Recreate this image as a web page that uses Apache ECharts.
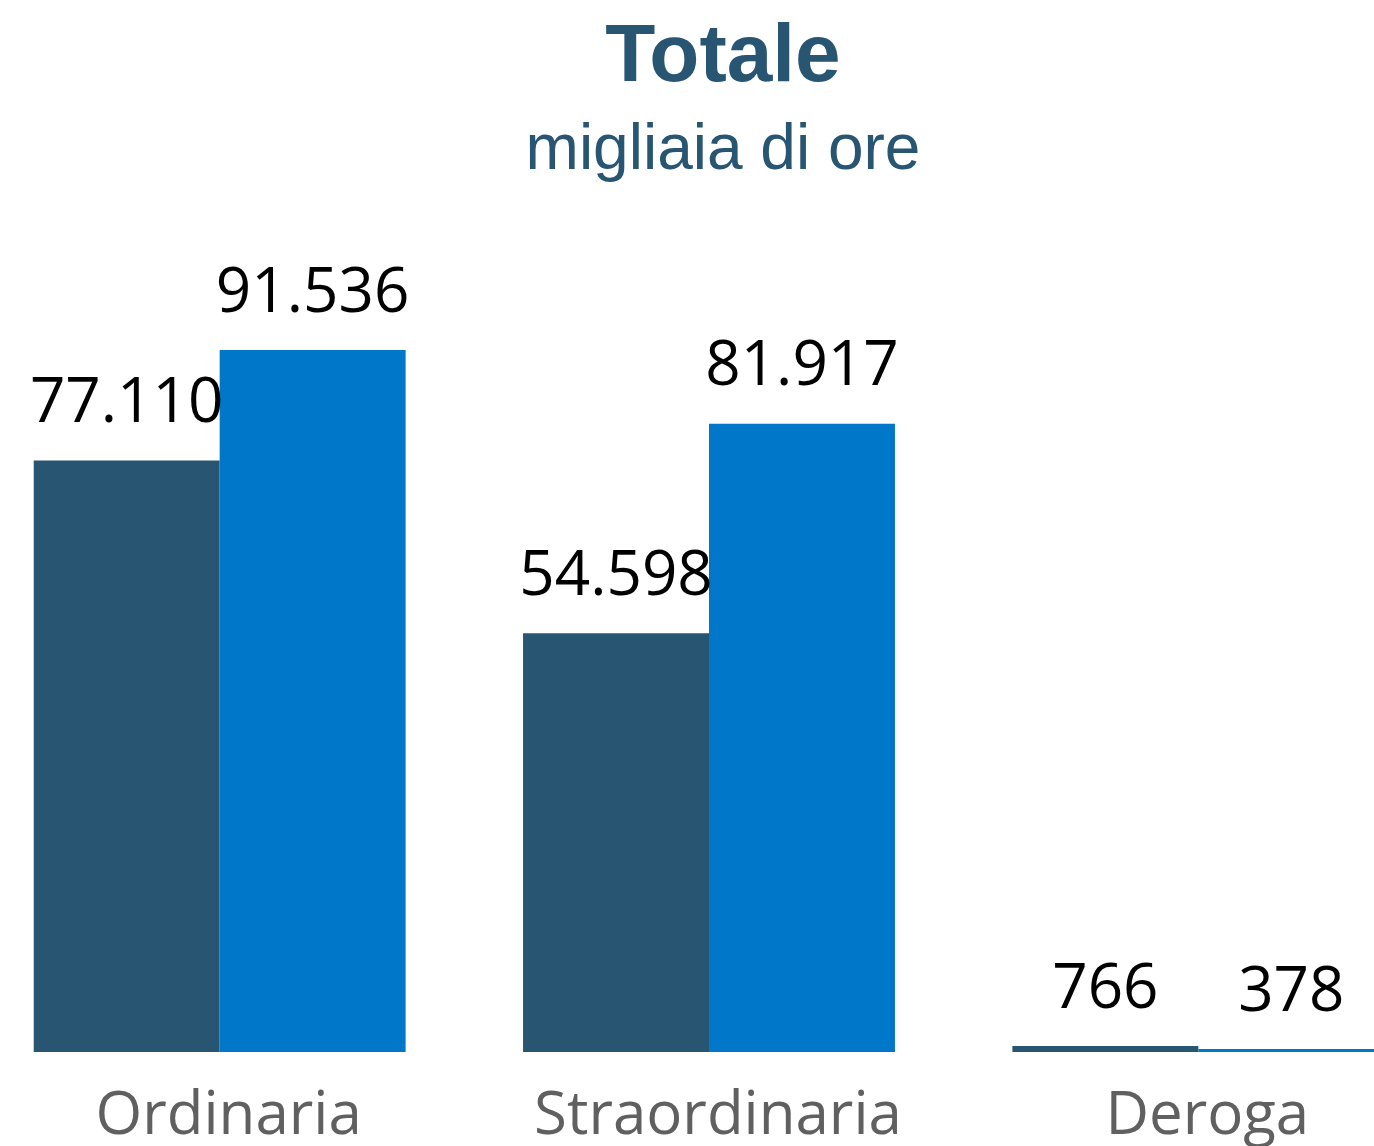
<!DOCTYPE html>
<html>
<head>
	<meta charset="UTF-8">
	<title>Totale - migliaia di ore</title>
	<style>
		* { margin: 0; padding: 0; }
		body { background: #ffffff; }
		#chart { width: 1374px; height: 1146px; }
	</style>
</head>
<body>
	<div id="chart"></div>
	<script src="https://cdn.jsdelivr.net/npm/echarts@6/dist/echarts.min.js"></script>
	<script>
		// dati (migliaia di ore)
		var categorie = ['Ordinaria', 'Straordinaria', 'Deroga'];
		var serieA = [77110, 54598, 766];
		var serieB = [91536, 81917, 378];

		var coloreScuro = '#285572';
		var coloreBlu = '#0077c8';

		// formato italiano: punto come separatore delle migliaia
		function formatta(v) {
			return String(v).replace(/\B(?=(\d{3})+(?!\d))/g, '.');
		}

		var chart = echarts.init(document.getElementById('chart'));

		var etichetta = {
			show: true,
			position: 'top',
			distance: 25,
			color: '#000000',
			fontSize: 62,
			fontFamily: 'Open Sans',
			formatter: function (p) { return formatta(p.value); }
		};

		var option = {
			animation: false,
			title: {
				text: 'Totale',
				subtext: 'migliaia di ore',
				left: 718,
				textAlign: 'center',
				top: 12,
				itemGap: 20,
				textStyle: {
					fontFamily: 'Liberation Sans',
					fontWeight: 'bold',
					fontSize: 82,
					color: '#285572'
				},
				subtextStyle: {
					fontFamily: 'Liberation Sans',
					fontSize: 64,
					color: '#285572'
				}
			},
			grid: {
				left: -25,
				right: -69,
				top: 285,
				bottom: 94,
				outerBoundsMode: 'none'
			},
			xAxis: {
				type: 'category',
				data: categorie,
				axisLine: { show: false },
				axisTick: { show: false },
				axisLabel: {
					interval: 0,
					hideOverlap: false,
					margin: 35,
					padding: [0, 0, 0, 18],
					fontSize: 60,
					fontFamily: 'Open Sans',
					color: '#606060'
				}
			},
			yAxis: {
				type: 'value',
				min: 0,
				max: 100000,
				show: false,
				splitLine: { show: false }
			},
			series: [
				{
					name: 'A',
					type: 'bar',
					data: serieA,
					barGap: '0%',
					barCategoryGap: '24%',
					itemStyle: { color: coloreScuro },
					label: etichetta
				},
				{
					name: 'B',
					type: 'bar',
					data: serieB,
					itemStyle: { color: coloreBlu },
					label: etichetta
				}
			]
		};

		chart.setOption(option);
	</script>
</body>
</html>
